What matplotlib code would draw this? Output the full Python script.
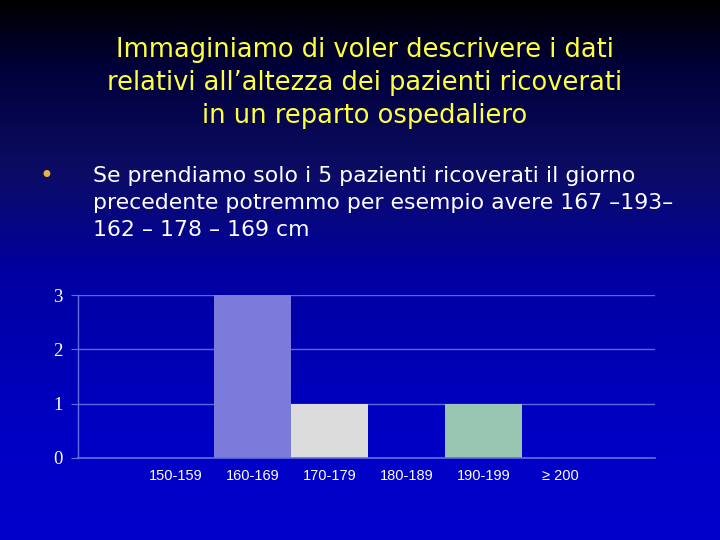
import numpy as np
import matplotlib
matplotlib.use("Agg")
import matplotlib.pyplot as plt
from matplotlib.colors import LinearSegmentedColormap

# ---- data ----
categories = ['150-159', '160-169', '170-179', '180-189', '190-199', '\u2265 200']
counts = [0, 3, 1, 0, 1, 0]
bar_colors = ['#7b7bdb', '#7b7bdb', '#dcdcdc', '#7b7bdb', '#99c5b3', '#7b7bdb']
yticks = [0, 1, 2, 3]

title_lines = ["Immaginiamo di voler descrivere i dati",
               "relativi all\u2019altezza dei pazienti ricoverati",
               "in un reparto ospedaliero"]
bullet_lines = ["Se prendiamo solo i 5 pazienti ricoverati il giorno",
                "precedente potremmo per esempio avere 167 \u2013193\u2013",
                "162 \u2013 178 \u2013 169 cm"]

fig = plt.figure(figsize=(7.2, 5.4), dpi=100)

# background gradient
bg = fig.add_axes([0, 0, 1, 1], zorder=-10)
cmap = LinearSegmentedColormap.from_list('slide', [
    (0.0, '#000000'), (0.12, '#000038'), (0.32, '#0c0c66'),
    (0.5, '#0000a0'), (0.8, '#0000c4'), (1.0, '#0000cc')])
grad = np.linspace(0, 1, 540).reshape(-1, 1)
bg.imshow(grad, aspect='auto', cmap=cmap, extent=[0, 1, 1, 0])
bg.set_xlim(0, 1)
bg.set_ylim(1, 0)
bg.axis('off')

# title
for i, line in enumerate(title_lines):
    fig.text(365 / 720, 1 - (50 + 33 * i) / 540, line, ha='center', va='center',
             color='#ffff3c', fontsize=18.5, family='DejaVu Sans')

# bullet
fig.text(46 / 720, 1 - 176 / 540, '\u2022', ha='center', va='center',
         color='#e8b43a', fontsize=17)
for i, line in enumerate(bullet_lines):
    fig.text(93 / 720, 1 - (176 + 27 * i) / 540, line, ha='left', va='center',
             color='white', fontsize=15.8, family='DejaVu Sans')

# chart
ax = fig.add_axes([78 / 720, 1 - 458 / 540, (655 - 78) / 720, (458 - 295) / 540])
ax.patch.set_alpha(0)
x = np.arange(len(categories))
ax.bar(x, counts, width=1.0, color=bar_colors, edgecolor='none', zorder=3)
ax.set_xlim(-1.27, 6.23)
ax.set_ylim(0, 3)
ax.set_yticks(yticks)
ax.set_yticklabels([str(v) for v in yticks], family='Liberation Serif',
                   fontsize=13.5, color='white')
ax.set_xticks(x)
ax.set_xticklabels(categories, family='Liberation Sans', fontsize=10.5, color='white')
ax.tick_params(axis='x', length=0, pad=8)
ax.tick_params(axis='y', length=5, color='#6070e0', pad=6)
ax.grid(axis='y', color='#5a68e0', linewidth=1, zorder=1)
ax.axhline(0, color='#6070e0', linewidth=1.2, zorder=4, clip_on=False)
for s in ['top', 'right', 'bottom']:
    ax.spines[s].set_visible(False)
ax.spines['left'].set_color('#6070e0')
ax.spines['left'].set_linewidth(1)

fig.savefig('out.png', dpi=100)
